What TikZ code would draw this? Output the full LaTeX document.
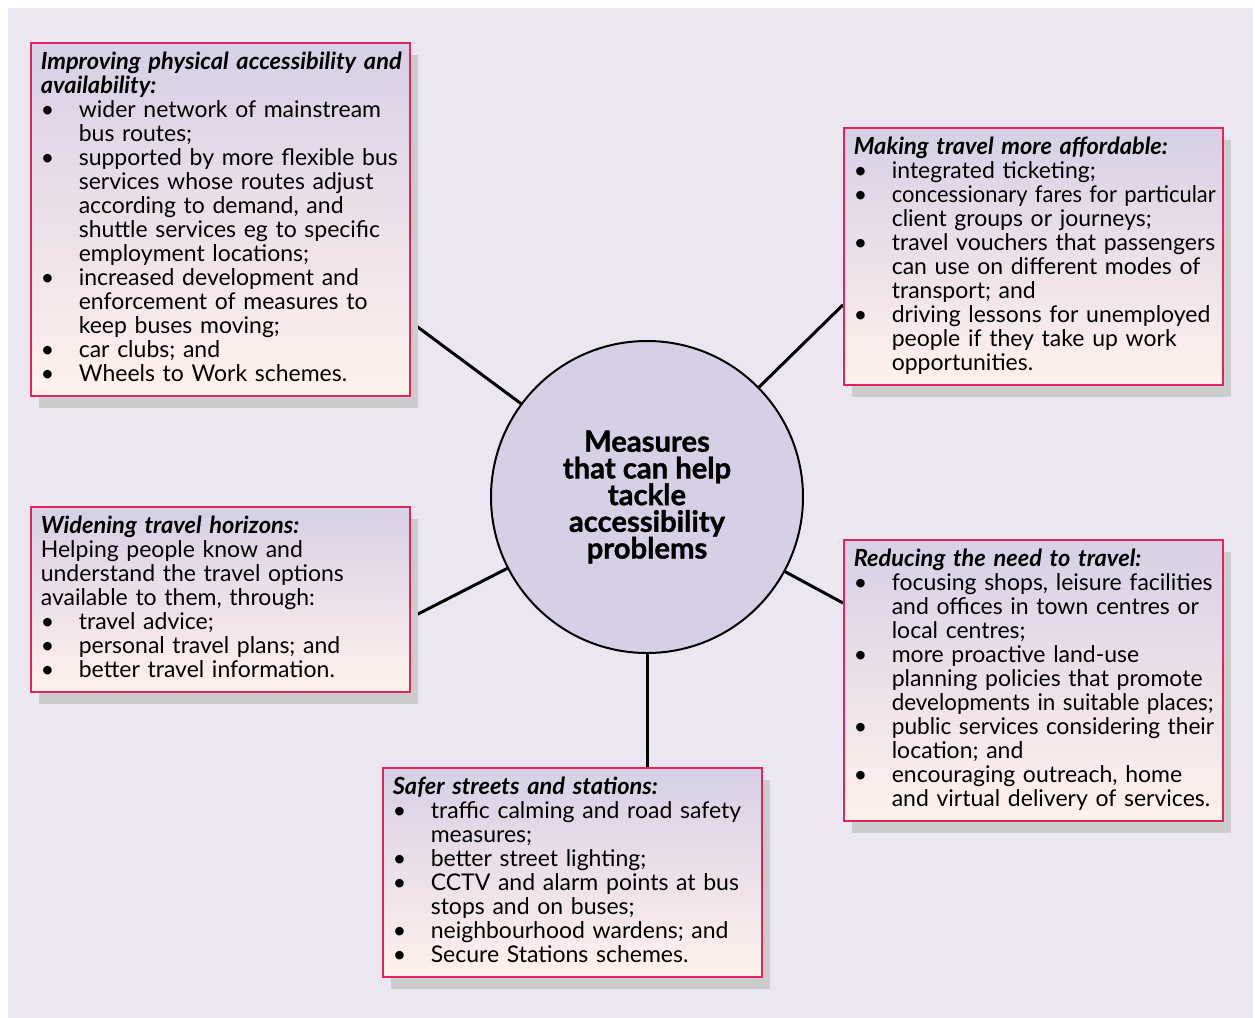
\documentclass[tikz,border=0pt]{standalone}
\usepackage{fontspec}
\setmainfont{Lato}
\newfontfamily\hubfont[BoldFeatures={FakeBold=1.2}]{Lato}
\usetikzlibrary{shadows,backgrounds,calc}

\definecolor{pagebg}{HTML}{EBE6F2}
\definecolor{boxtop}{HTML}{D8CFE6}
\definecolor{boxbot}{HTML}{FFF1EB}
\definecolor{boxline}{HTML}{E0245E}
\definecolor{shade}{HTML}{CCCCCC}
\definecolor{hubfill}{HTML}{D8CFE6}

\newcommand\bul[1]{\makebox[19pt][l]{\textbullet}\mbox{#1}}
\newcommand\cnt[1]{\hspace*{19pt}\mbox{#1}}
\newcommand\hd[1]{\mbox{\fontsize{11.8}{12}\selectfont\bfseries\itshape #1}}
\newcommand\sq[2]{\scalebox{#1}[1]{#2}}

\begin{document}
\begin{tikzpicture}[x=0.5pt, y=-0.5pt,
      box/.style={draw=boxline, line width=0.8pt, top color=boxtop, bottom color=boxbot,
        anchor=north west, text width=179.5pt, inner xsep=5pt, inner ysep=3.5pt, align=left,
        font=\fontsize{11.5}{12}\selectfont,
        execute at begin node=\rule{0pt}{10pt}, execute at end node=\strut,
        drop shadow={shadow xshift=4pt, shadow yshift=-6pt, fill=shade, opacity=1}},
      hub/.style={circle, draw, line width=1pt, fill=hubfill, minimum size=156pt, inner sep=0pt,
        align=center, font=\hubfont\fontsize{14.6}{13.35}\selectfont\bfseries},
      spoke/.style={line width=1.5pt}
    ]
      \useasboundingbox (0,0) rectangle (1255,1018);
      \node[hub] (hub) at (647,497) {Measures\\that can help\\tackle\\accessibility\\problems};
      \node[box] (access) at (30,42) {\hd{Improving physical accessibility and}\\
        \hd{availability:}\\
        \bul{wider network of mainstream}\\
        \cnt{bus routes;}\\
        \bul{supported by more flexible bus}\\
        \cnt{services whose routes adjust}\\
        \cnt{according to demand, and}\\
        \cnt{shuttle services eg to specific}\\
        \cnt{employment locations;}\\
        \bul{increased development and}\\
        \cnt{enforcement of measures to}\\
        \cnt{keep buses moving;}\\
        \bul{car clubs; and}\\
        \bul{Wheels to Work schemes.}};
      \node[box] (afford) at (843,127) {\hd{Making travel more affordable:}\\
        \bul{integrated ticketing;}\\
        \bul{\sq{0.953}{concessionary fares for particular}}\\
        \cnt{client groups or journeys;}\\
        \bul{travel vouchers that passengers}\\
        \cnt{can use on different modes of}\\
        \cnt{transport; and}\\
        \bul{driving lessons for unemployed}\\
        \cnt{people if they take up work}\\
        \cnt{opportunities.}};
      \node[box] (horiz) at (30,506) {\hd{Widening travel horizons:}\\
        \mbox{Helping people know and}\\
        \mbox{understand the travel options}\\
        \mbox{available to them, through:}\\
        \bul{travel advice;}\\
        \bul{personal travel plans; and}\\
        \bul{better travel information.}};
      \node[box] (reduce) at (843,539) {\hd{Reducing the need to travel:}\\
        \bul{focusing shops, leisure facilities}\\
        \cnt{and offices in town centres or}\\
        \cnt{local centres;}\\
        \bul{more proactive land-use}\\
        \cnt{planning policies that promote}\\
        \cnt{\sq{0.975}{developments in suitable places;}}\\
        \bul{\sq{0.985}{public services considering their}}\\
        \cnt{location; and}\\
        \bul{encouraging outreach, home}\\
        \cnt{and virtual delivery of services.}};
      \node[box] (safe) at (382,767) {\hd{Safer streets and stations:}\\
        \bul{traffic calming and road safety}\\
        \cnt{measures;}\\
        \bul{better street lighting;}\\
        \bul{CCTV and alarm points at bus}\\
        \cnt{stops and on buses;}\\
        \bul{neighbourhood wardens; and}\\
        \bul{Secure Stations schemes.}};
      % spokes behind the boxes
      \begin{scope}[on background layer]
        \fill[pagebg] (8,8) rectangle (1253,1018);
        \draw[spoke] (hub) -- ($(access.south east)+(0,-75)$);
        \draw[spoke] (hub) -- ($(afford.south west)+(0,-81)$);
        \draw[spoke] (hub) -- ($(horiz.south east)+(0,-75)$);
        \draw[spoke] (hub) -- ($(reduce.north west)+(0,64)$);
        \draw[spoke] (hub) -- (hub.south |- safe.north);
      \end{scope}
    \end{tikzpicture}
\end{document}
